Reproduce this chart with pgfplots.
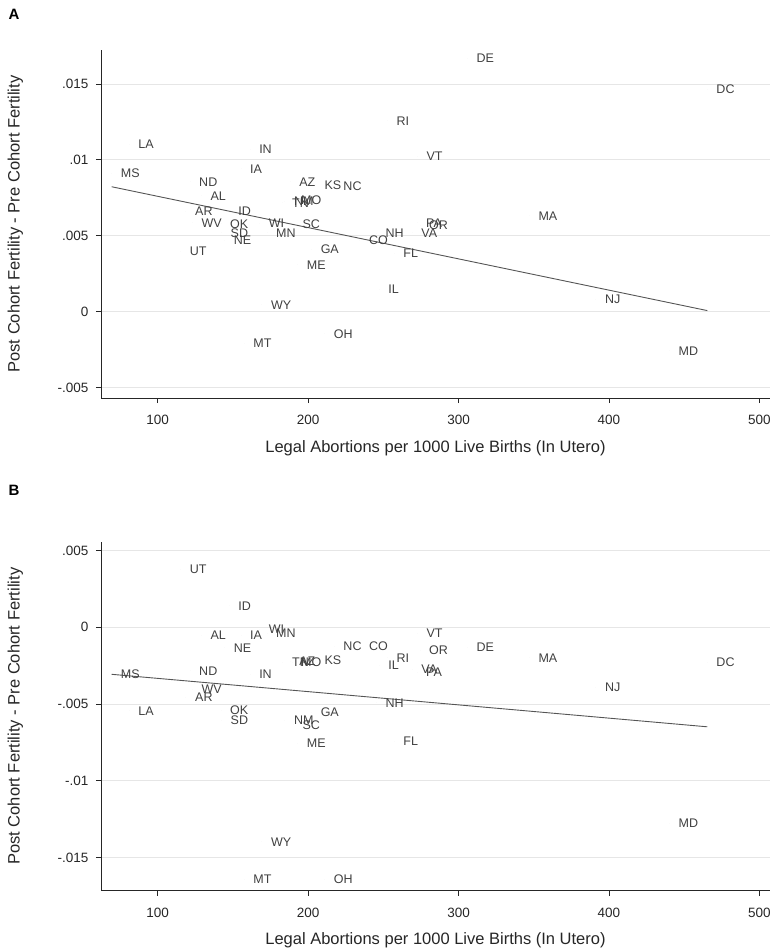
\documentclass[border=0pt]{standalone}
\usepackage{fontspec}
\setmainfont{Liberation Sans}
\usepackage{pgfplots}
\pgfplotsset{compat=1.18}
\usepackage{pgfplotstable}

\definecolor{labgray}{HTML}{404040}
\definecolor{gridgray}{HTML}{E6E6E6}
\definecolor{fitgray}{HTML}{555555}
\definecolor{axgray}{HTML}{262626}

% panel A: post - pre cohort fertility
\pgfplotstableread{
x y lab
69.4 0.00909 MS
81.1 0.01103 LA
115.2 0.00395 UT
118.8 0.00663 AR
121.5 0.00856 ND
123.1 0.00586 WV
129.0 0.00764 AL
142.1 0.00578 OK
142.4 0.00520 SD
144.5 0.00468 NE
147.5 0.00659 ID
155.4 0.00940 IA
157.5 -0.00208 MT
161.4 0.01070 IN
167.8 0.00582 WI
169.3 0.00044 WY
172.7 0.00520 MN
183.3 0.00716 TN
184.6 0.00725 NM
188.0 0.00856 AZ
189.3 0.00736 MO
190.2 0.00576 SC
193.1 0.00308 ME
202.3 0.00411 GA
204.8 0.00835 KS
211.0 -0.00147 OH
217.4 0.00828 NC
234.5 0.00468 CO
245.4 0.00516 NH
247.3 0.00148 IL
252.8 0.01258 RI
257.3 0.00385 FL
269.2 0.00520 VA
272.4 0.00586 PA
272.7 0.01021 VT
274.4 0.00570 OR
305.9 0.01669 DE
347.1 0.00632 MA
391.4 0.00082 NJ
440.3 -0.00259 MD
465.4 0.01467 DC
}\dataA

% panel B
\pgfplotstableread{
x y lab
69.4 -0.00306 MS
81.1 -0.00545 LA
115.2 0.00378 UT
118.8 -0.00456 AR
121.5 -0.00283 ND
123.1 -0.00404 WV
129.0 -0.00050 AL
142.1 -0.00539 OK
142.4 -0.00604 SD
144.5 -0.00133 NE
147.5 0.00141 ID
155.4 -0.00050 IA
157.5 -0.01642 MT
161.4 -0.00306 IN
167.8 -0.00012 WI
169.3 -0.01397 WY
172.7 -0.00039 MN
183.3 -0.00226 TN
184.6 -0.00604 NM
188.0 -0.00220 AZ
189.3 -0.00230 MO
190.2 -0.00636 SC
193.1 -0.00756 ME
202.3 -0.00556 GA
204.8 -0.00213 KS
211.0 -0.01642 OH
217.4 -0.00122 NC
234.5 -0.00120 CO
245.4 -0.00491 NH
247.3 -0.00246 IL
252.8 -0.00198 RI
257.3 -0.00745 FL
269.2 -0.00274 VA
272.4 -0.00291 PA
272.7 -0.00039 VT
274.4 -0.00148 OR
305.9 -0.00130 DE
347.1 -0.00198 MA
391.4 -0.00393 NJ
440.3 -0.01277 MD
465.4 -0.00228 DC
}\dataB

\pgfplotsset{
  panel/.style={
    scale only axis, width=669pt,
    xmin=62.3, xmax=507.1,
    axis x line*=bottom, axis y line*=left,
    axis line style={-, axgray, line width=0.9pt},
    tick align=outside, major tick length=5pt,
    tick style={axgray, line width=0.8pt},
    xtick={100,200,300,400,500},
    /pgf/number format/assume math mode=true,
    ymajorgrids, grid style={gridgray, line width=0.8pt},
    scaled y ticks=false,
    tick label style={font=\fontsize{13.5}{14}\selectfont, text=axgray},
    xticklabel style={yshift=-9pt},
    yticklabel style={xshift=-4pt},
    label style={font=\fontsize{16.5}{18}\selectfont, text=axgray},
    xlabel={Legal Abortions per 1000 Live Births (In Utero)},
    ylabel={Post Cohort Fertility - Pre Cohort Fertility},
    xlabel style={at={(axis description cs:0.5,-0.143)}, anchor=center},
    ylabel style={at={(axis description cs:-0.128,0.5)}, anchor=center},
    clip=false,
  },
  statelab/.style={
    only marks, mark=*, mark size=0pt, mark options={draw=none, fill=none},
    nodes near coords, point meta=explicit symbolic,
    nodes near coords align={right},
    every node near coord/.append style={inner sep=0pt, xshift=9pt,
      font=\fontsize{12.5}{13}\selectfont, text=labgray},
  },
}

\begin{document}
\begin{tikzpicture}
\path[use as bounding box] (0,0) rectangle (774pt,-951pt);
\node[font=\bfseries\fontsize{15}{15}\selectfont] at (14pt,-14pt) {A};
\node[font=\bfseries\fontsize{15}{15}\selectfont] at (14pt,-490pt) {B};

\begin{axis}[panel, at={(101pt,-398pt)}, anchor=south west, height=348pt,
  ymin=-0.00569, ymax=0.01724,
  ytick={-0.005,0,0.005,0.01,0.015},
  yticklabels={-.005,0,.005,.01,.015}]
\addplot[statelab] table[x=x, y=y, meta=lab] {\dataA};
\addplot[fitgray, line width=0.9pt] coordinates {(69.4,0.00823) (465.4,0.00007)};
\end{axis}

\begin{axis}[panel, at={(101pt,-890.7pt)}, anchor=south west, height=349pt,
  ymin=-0.01716, ymax=0.00558,
  ytick={-0.015,-0.01,-0.005,0,0.005},
  yticklabels={-.015,-.01,-.005,0,.005}]
\addplot[statelab] table[x=x, y=y, meta=lab] {\dataB};
\addplot[fitgray, line width=0.9pt] coordinates {(69.4,-0.00306) (465.4,-0.00648)};
\end{axis}
\end{tikzpicture}
\end{document}
